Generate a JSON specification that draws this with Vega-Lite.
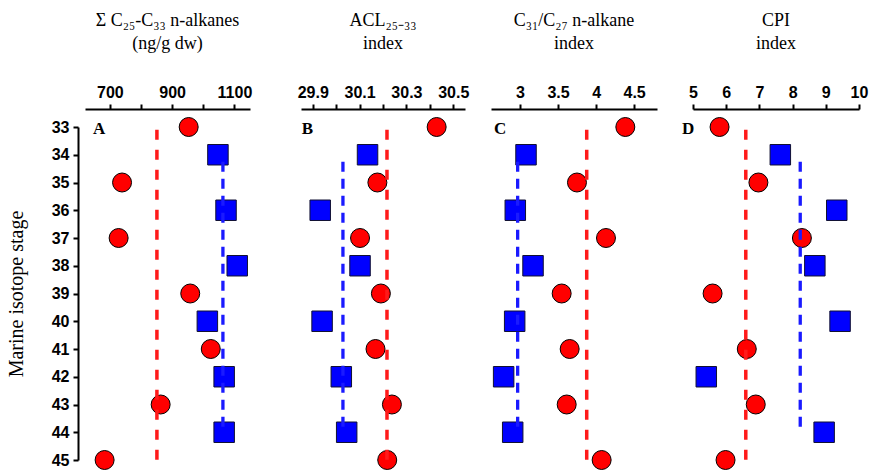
{
  "$schema": "https://vega.github.io/schema/vega-lite/v6.json",
  "padding": {"left": 6, "top": 12, "right": 5, "bottom": 0},
  "background": "white",
  "config": {
    "view": {"stroke": null},
    "axis": {"grid": false, "domainColor": "black", "tickColor": "black", "labelColor": "black", "domainWidth": 2, "tickWidth": 2, "tickSize": 5, "tickCount": 30, "labelFont": "Liberation Sans", "labelFontWeight": "bold", "labelFontSize": 16, "labelOverlap": false, "labelFlush": false, "titleFont": "Liberation Serif", "titleFontWeight": "normal", "titleFontSize": 20, "titleColor": "black"},
    "title": {"font": "Liberation Serif", "fontSize": 18, "fontWeight": "normal", "color": "black", "anchor": "middle", "offset": 31, "lineHeight": 23}
  },
  "datasets": {
    "pts": [
      {"panel": "A", "mis": 33, "value": 953, "phase": "odd"},
      {"panel": "A", "mis": 34, "value": 1047, "phase": "even"},
      {"panel": "A", "mis": 35, "value": 739, "phase": "odd"},
      {"panel": "A", "mis": 36, "value": 1073, "phase": "even"},
      {"panel": "A", "mis": 37, "value": 728, "phase": "odd"},
      {"panel": "A", "mis": 38, "value": 1109, "phase": "even"},
      {"panel": "A", "mis": 39, "value": 958, "phase": "odd"},
      {"panel": "A", "mis": 40, "value": 1013, "phase": "even"},
      {"panel": "A", "mis": 41, "value": 1024, "phase": "odd"},
      {"panel": "A", "mis": 42, "value": 1067, "phase": "even"},
      {"panel": "A", "mis": 43, "value": 863, "phase": "odd"},
      {"panel": "A", "mis": 44, "value": 1067, "phase": "even"},
      {"panel": "A", "mis": 45, "value": 683, "phase": "odd"},
      {"panel": "B", "mis": 33, "value": 30.429, "phase": "odd"},
      {"panel": "B", "mis": 34, "value": 30.134, "phase": "even"},
      {"panel": "B", "mis": 35, "value": 30.176, "phase": "odd"},
      {"panel": "B", "mis": 36, "value": 29.932, "phase": "even"},
      {"panel": "B", "mis": 37, "value": 30.102, "phase": "odd"},
      {"panel": "B", "mis": 38, "value": 30.102, "phase": "even"},
      {"panel": "B", "mis": 39, "value": 30.191, "phase": "odd"},
      {"panel": "B", "mis": 40, "value": 29.94, "phase": "even"},
      {"panel": "B", "mis": 41, "value": 30.168, "phase": "odd"},
      {"panel": "B", "mis": 42, "value": 30.022, "phase": "even"},
      {"panel": "B", "mis": 43, "value": 30.238, "phase": "odd"},
      {"panel": "B", "mis": 44, "value": 30.045, "phase": "even"},
      {"panel": "B", "mis": 45, "value": 30.218, "phase": "odd"},
      {"panel": "C", "mis": 33, "value": 4.384, "phase": "odd"},
      {"panel": "C", "mis": 34, "value": 3.08, "phase": "even"},
      {"panel": "C", "mis": 35, "value": 3.749, "phase": "odd"},
      {"panel": "C", "mis": 36, "value": 2.939, "phase": "even"},
      {"panel": "C", "mis": 37, "value": 4.13, "phase": "odd"},
      {"panel": "C", "mis": 38, "value": 3.172, "phase": "even"},
      {"panel": "C", "mis": 39, "value": 3.548, "phase": "odd"},
      {"panel": "C", "mis": 40, "value": 2.931, "phase": "even"},
      {"panel": "C", "mis": 41, "value": 3.653, "phase": "odd"},
      {"panel": "C", "mis": 42, "value": 2.786, "phase": "even"},
      {"panel": "C", "mis": 43, "value": 3.614, "phase": "odd"},
      {"panel": "C", "mis": 44, "value": 2.905, "phase": "even"},
      {"panel": "C", "mis": 45, "value": 4.073, "phase": "odd"},
      {"panel": "D", "mis": 33, "value": 5.80, "phase": "odd"},
      {"panel": "D", "mis": 34, "value": 7.63, "phase": "even"},
      {"panel": "D", "mis": 35, "value": 6.97, "phase": "odd"},
      {"panel": "D", "mis": 36, "value": 9.33, "phase": "even"},
      {"panel": "D", "mis": 37, "value": 8.28, "phase": "odd"},
      {"panel": "D", "mis": 38, "value": 8.67, "phase": "even"},
      {"panel": "D", "mis": 39, "value": 5.59, "phase": "odd"},
      {"panel": "D", "mis": 40, "value": 9.43, "phase": "even"},
      {"panel": "D", "mis": 41, "value": 6.62, "phase": "odd"},
      {"panel": "D", "mis": 42, "value": 5.40, "phase": "even"},
      {"panel": "D", "mis": 43, "value": 6.89, "phase": "odd"},
      {"panel": "D", "mis": 44, "value": 8.95, "phase": "even"},
      {"panel": "D", "mis": 45, "value": 5.98, "phase": "odd"}
    ],
    "means": [
      {"panel": "A", "phase": "odd", "value": 851},
      {"panel": "A", "phase": "even", "value": 1063},
      {"panel": "B", "phase": "odd", "value": 30.217},
      {"panel": "B", "phase": "even", "value": 30.029},
      {"panel": "C", "phase": "odd", "value": 3.877},
      {"panel": "C", "phase": "even", "value": 2.97},
      {"panel": "D", "phase": "odd", "value": 6.59},
      {"panel": "D", "phase": "even", "value": 8.23}
    ]
  },
  "bounds": "flush",
  "spacing": 51,
  "resolve": {"scale": {"x": "independent"}},
  "hconcat": [
    {
      "width": 165, "height": 333,
      "title": {"text": ["Σ C₂₅-C₃₃ n-alkanes", "(ng/g dw)"]},
      "layer": [
        {"data": {"name": "pts"}, "transform": [{"filter": "datum.panel == 'A' && datum.phase == 'odd'"}],
         "mark": {"type": "point", "shape": "circle", "filled": true, "fill": "#ff0000", "stroke": "black", "strokeWidth": 1, "size": 360, "opacity": 1},
         "encoding": {
           "x": {"field": "value", "type": "quantitative", "scale": {"domain": [620, 1150], "nice": false, "zero": false},
                 "axis": {"orient": "top", "offset": 18, "values": [700, 800, 900, 1000, 1100], "tickCount": 30, "format": "d", "labelOverlap": false, "labelExpr": "(datum.value / 100) % 2 == 1 ? datum.label : ''", "title": null, "labelPadding": 4}},
           "y": {"field": "mis", "type": "quantitative", "scale": {"domain": [33, 45], "reverse": true, "nice": false, "zero": false},
                 "axis": {"orient": "left", "offset": 7, "values": [33, 34, 35, 36, 37, 38, 39, 40, 41, 42, 43, 44, 45], "tickCount": 30, "format": "d", "labelOverlap": false, "labelBound": false, "title": "Marine isotope stage", "labelPadding": 4, "titlePadding": 25}}
         }},
        {"data": {"name": "pts"}, "transform": [{"filter": "datum.panel == 'A' && datum.phase == 'even'"}],
         "mark": {"type": "point", "shape": "square", "filled": true, "fill": "#0000ff", "stroke": "#111133", "strokeWidth": 1, "size": 420, "opacity": 1},
         "encoding": {"x": {"field": "value", "type": "quantitative"}, "y": {"field": "mis", "type": "quantitative"}}},
        {"data": {"name": "means"}, "transform": [{"filter": "datum.panel == 'A' && datum.phase == 'odd'"}],
         "mark": {"type": "rule", "color": "#ff1a1a", "strokeWidth": 3.5, "strokeDash": [10, 10]},
         "encoding": {"x": {"field": "value", "type": "quantitative"}, "y": {"datum": 33.1}, "y2": {"datum": 45}}},
        {"data": {"name": "means"}, "transform": [{"filter": "datum.panel == 'A' && datum.phase == 'even'"}],
         "mark": {"type": "rule", "color": "#1a1aff", "strokeWidth": 3.3, "strokeDash": [10, 7]},
         "encoding": {"x": {"field": "value", "type": "quantitative"}, "y": {"datum": 34.25}, "y2": {"datum": 44}}},
        {"data": {"values": [{"letter": "A"}]},
         "mark": {"type": "text", "font": "Liberation Serif", "fontWeight": "bold", "fontSize": 17, "align": "left", "baseline": "middle", "dy": 2, "color": "black"},
         "encoding": {"x": {"datum": 646}, "y": {"datum": 33}, "text": {"field": "letter"}}}
      ]
    },
    {
      "bounds": "flush",
      "spacing": 26,
      "resolve": {"scale": {"x": "independent"}},
      "hconcat": [
        {
          "width": 164, "height": 333,
          "title": {"text": ["ACL₂₅₋₃₃", "index"]},
          "layer": [
            {"data": {"name": "pts"}, "transform": [{"filter": "datum.panel == 'B' && datum.phase == 'odd'"}],
             "mark": {"type": "point", "shape": "circle", "filled": true, "fill": "#ff0000", "stroke": "black", "strokeWidth": 1, "size": 360, "opacity": 1},
             "encoding": {
               "x": {"field": "value", "type": "quantitative", "scale": {"domain": [29.85, 30.55], "nice": false, "zero": false},
                     "axis": {"orient": "top", "offset": 18, "values": [29.9, 30.0, 30.1, 30.2, 30.3, 30.4, 30.5], "tickCount": 30, "format": ".1f", "labelOverlap": false, "labelExpr": "round(datum.value * 10) % 2 == 1 ? datum.label : ''", "title": null, "labelPadding": 4}},
               "y": {"field": "mis", "type": "quantitative", "scale": {"domain": [33, 45], "reverse": true, "nice": false, "zero": false}, "axis": null}
             }},
            {"data": {"name": "pts"}, "transform": [{"filter": "datum.panel == 'B' && datum.phase == 'even'"}],
             "mark": {"type": "point", "shape": "square", "filled": true, "fill": "#0000ff", "stroke": "#111133", "strokeWidth": 1, "size": 420, "opacity": 1},
             "encoding": {"x": {"field": "value", "type": "quantitative"}, "y": {"field": "mis", "type": "quantitative"}}},
            {"data": {"name": "means"}, "transform": [{"filter": "datum.panel == 'B' && datum.phase == 'odd'"}],
             "mark": {"type": "rule", "color": "#ff1a1a", "strokeWidth": 3.5, "strokeDash": [10, 10]},
             "encoding": {"x": {"field": "value", "type": "quantitative"}, "y": {"datum": 33.1}, "y2": {"datum": 45}}},
            {"data": {"name": "means"}, "transform": [{"filter": "datum.panel == 'B' && datum.phase == 'even'"}],
             "mark": {"type": "rule", "color": "#1a1aff", "strokeWidth": 3.3, "strokeDash": [10, 7]},
             "encoding": {"x": {"field": "value", "type": "quantitative"}, "y": {"datum": 34.25}, "y2": {"datum": 44}}},
            {"data": {"values": [{"letter": "B"}]},
             "mark": {"type": "text", "font": "Liberation Serif", "fontWeight": "bold", "fontSize": 17, "align": "left", "baseline": "middle", "dy": 2, "color": "black"},
             "encoding": {"x": {"datum": 29.853}, "y": {"datum": 33}, "text": {"field": "letter"}}}
          ]
        },
        {
          "bounds": "flush",
          "spacing": 36,
          "resolve": {"scale": {"x": "independent"}},
          "hconcat": [
            {
              "width": 166, "height": 333,
              "title": {"text": ["C₃₁/C₂₇ n-alkane", "index"]},
              "layer": [
                {"data": {"name": "pts"}, "transform": [{"filter": "datum.panel == 'C' && datum.phase == 'odd'"}],
                 "mark": {"type": "point", "shape": "circle", "filled": true, "fill": "#ff0000", "stroke": "black", "strokeWidth": 1, "size": 360, "opacity": 1},
                 "encoding": {
                   "x": {"field": "value", "type": "quantitative", "scale": {"domain": [2.62, 4.8], "nice": false, "zero": false},
                         "axis": {"orient": "top", "offset": 18, "values": [3, 3.5, 4, 4.5], "tickCount": 30, "format": "~g", "labelOverlap": false, "title": null, "labelPadding": 4}},
                   "y": {"field": "mis", "type": "quantitative", "scale": {"domain": [33, 45], "reverse": true, "nice": false, "zero": false}, "axis": null}
                 }},
                {"data": {"name": "pts"}, "transform": [{"filter": "datum.panel == 'C' && datum.phase == 'even'"}],
                 "mark": {"type": "point", "shape": "square", "filled": true, "fill": "#0000ff", "stroke": "#111133", "strokeWidth": 1, "size": 420, "opacity": 1},
                 "encoding": {"x": {"field": "value", "type": "quantitative"}, "y": {"field": "mis", "type": "quantitative"}}},
                {"data": {"name": "means"}, "transform": [{"filter": "datum.panel == 'C' && datum.phase == 'odd'"}],
                 "mark": {"type": "rule", "color": "#ff1a1a", "strokeWidth": 3.5, "strokeDash": [10, 10]},
                 "encoding": {"x": {"field": "value", "type": "quantitative"}, "y": {"datum": 33.1}, "y2": {"datum": 45}}},
                {"data": {"name": "means"}, "transform": [{"filter": "datum.panel == 'C' && datum.phase == 'even'"}],
                 "mark": {"type": "rule", "color": "#1a1aff", "strokeWidth": 3.3, "strokeDash": [10, 7]},
                 "encoding": {"x": {"field": "value", "type": "quantitative"}, "y": {"datum": 34.25}, "y2": {"datum": 44}}},
                {"data": {"values": [{"letter": "C"}]},
                 "mark": {"type": "text", "font": "Liberation Serif", "fontWeight": "bold", "fontSize": 17, "align": "left", "baseline": "middle", "dy": 2, "color": "black"},
                 "encoding": {"x": {"datum": 2.659}, "y": {"datum": 33}, "text": {"field": "letter"}}}
              ]
            },
            {
              "width": 166, "height": 333,
              "title": {"text": ["CPI", "index"]},
              "layer": [
                {"data": {"name": "pts"}, "transform": [{"filter": "datum.panel == 'D' && datum.phase == 'odd'"}],
                 "mark": {"type": "point", "shape": "circle", "filled": true, "fill": "#ff0000", "stroke": "black", "strokeWidth": 1, "size": 360, "opacity": 1},
                 "encoding": {
                   "x": {"field": "value", "type": "quantitative", "scale": {"domain": [5, 10], "nice": false, "zero": false},
                         "axis": {"orient": "top", "offset": 18, "values": [5, 6, 7, 8, 9, 10], "tickCount": 30, "format": "d", "labelOverlap": false, "labelBound": false, "title": null, "labelPadding": 4}},
                   "y": {"field": "mis", "type": "quantitative", "scale": {"domain": [33, 45], "reverse": true, "nice": false, "zero": false}, "axis": null}
                 }},
                {"data": {"name": "pts"}, "transform": [{"filter": "datum.panel == 'D' && datum.phase == 'even'"}],
                 "mark": {"type": "point", "shape": "square", "filled": true, "fill": "#0000ff", "stroke": "#111133", "strokeWidth": 1, "size": 420, "opacity": 1},
                 "encoding": {"x": {"field": "value", "type": "quantitative"}, "y": {"field": "mis", "type": "quantitative"}}},
                {"data": {"name": "means"}, "transform": [{"filter": "datum.panel == 'D' && datum.phase == 'odd'"}],
                 "mark": {"type": "rule", "color": "#ff1a1a", "strokeWidth": 3.5, "strokeDash": [10, 10]},
                 "encoding": {"x": {"field": "value", "type": "quantitative"}, "y": {"datum": 33.1}, "y2": {"datum": 45}}},
                {"data": {"name": "means"}, "transform": [{"filter": "datum.panel == 'D' && datum.phase == 'even'"}],
                 "mark": {"type": "rule", "color": "#1a1aff", "strokeWidth": 3.3, "strokeDash": [10, 7]},
                 "encoding": {"x": {"field": "value", "type": "quantitative"}, "y": {"datum": 34.25}, "y2": {"datum": 44}}},
                {"data": {"values": [{"letter": "D"}]},
                 "mark": {"type": "text", "font": "Liberation Serif", "fontWeight": "bold", "fontSize": 17, "align": "left", "baseline": "middle", "dy": 2, "color": "black"},
                 "encoding": {"x": {"datum": 4.67}, "y": {"datum": 33}, "text": {"field": "letter"}}}
              ]
            }
          ]
        }
      ]
    }
  ]
}
